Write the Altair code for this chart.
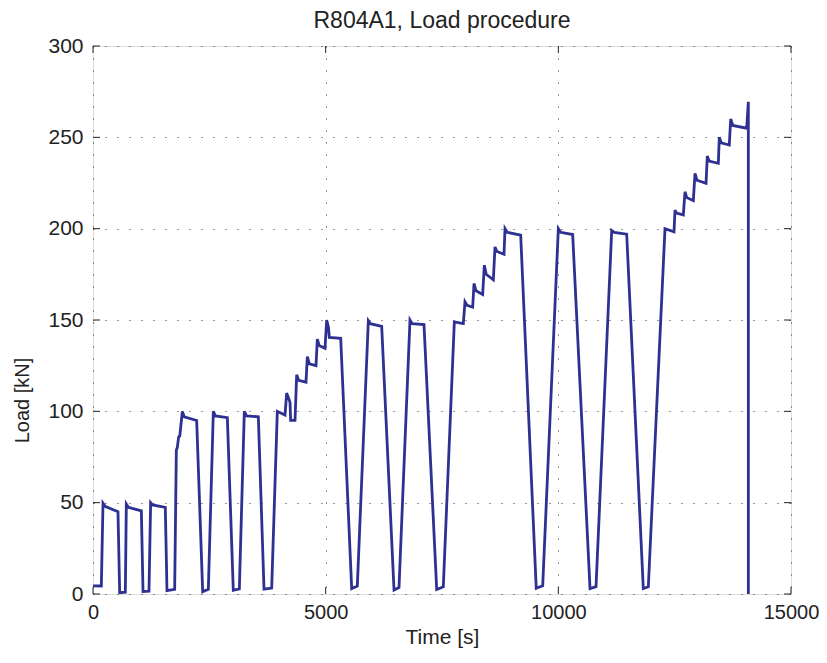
import altair as alt
import pandas as pd

# Load procedure
time_s = [0, 179, 215, 260, 537, 573, 695, 716, 760, 1039, 1075, 1203, 1239, 1280, 1554,
          1590, 1755, 1791, 1810, 1841, 1865, 1920, 1960, 2228, 2357, 2479, 2586, 2630, 2887,
          3015, 3145, 3252, 3300, 3553, 3675, 3840, 3961, 4126, 4162, 4234, 4248, 4341,
          4377, 4420, 4577, 4606, 4650, 4792, 4821, 4860, 4986, 5022, 5060, 5079, 5323,
          5559, 5680, 5917, 5960, 6204, 6469, 6576, 6812, 6860, 7113, 7386, 7528, 7765,
          7958, 7994, 8040, 8159, 8188, 8230, 8374, 8410, 8450, 8603, 8639, 8680, 8833,
          8854, 8900, 9191, 9525, 9664, 10000, 10050, 10308, 10681, 10810, 11147, 11200,
          11469, 11826, 11934, 12292, 12486, 12507, 12540, 12686, 12722, 12760, 12901,
          12937, 12980, 13174, 13201, 13240, 13438, 13459, 13500, 13674, 13704, 13750,
          14048, 14083, 14084]
load_kn = [4.5, 4.4, 49.7, 48, 45, 0.7, 1, 49.3, 47.5, 45.5, 1.3, 1.5, 50, 48.8, 47.4,
           1.8, 2.5, 78.8, 80, 86, 86.5, 100, 97, 95, 1.3, 2.6, 100, 97.5, 96.5,
           2, 2.8, 100, 97.5, 97, 2.6, 3.2, 100, 98, 110, 105, 95, 95,
           120, 117, 116, 130, 126, 125, 139.5, 136, 134.5, 150, 146, 140.5, 140,
           3, 4.4, 149.6, 148, 146.5, 2.2, 3.5, 150, 148, 147.5, 2.5, 4, 149,
           148, 160, 158, 157, 170, 166, 164, 180, 175, 172, 190, 187.5, 186,
           200, 198, 196.5, 3.1, 4.5, 200, 198, 196.8, 3, 4, 199, 198,
           197, 3, 4, 200, 198.3, 210.2, 208.5, 207.5, 220.2, 217, 215.3,
           230.3, 226.5, 224.8, 239.8, 237, 235.8, 250, 247, 245.8, 260, 256.5,
           255, 269.5, 0]

x_ticks = [0, 5000, 10000, 15000]
y_ticks = [0, 50, 100, 150, 200, 250, 300]

W, H = 698, 548
FONT = "Liberation Sans"
TXT = "#222222"

df = pd.DataFrame({"t": time_s, "L": load_kn})
xt = pd.DataFrame({"t": x_ticks})
yt = pd.DataFrame({"L": y_ticks})

x_axis = alt.Axis(values=x_ticks, format="d", title="Time [s]", grid=True,
                  gridDash=[1, 11], gridColor="#333333", gridWidth=1, ticks=False,
                  domain=False, labelFlush=False, labelOverlap=False, labelPadding=8,
                  labelFont=FONT, labelFontSize=20, labelColor=TXT,
                  titleFont=FONT, titleFontSize=21, titleFontWeight="normal",
                  titleColor=TXT, titleY=49, titleBaseline="alphabetic",
                  titleAlign="center")
y_axis = alt.Axis(values=y_ticks, format="d", title="Load [kN]", grid=True,
                  gridDash=[1, 11], gridColor="#333333", gridWidth=1, ticks=False,
                  domain=False, labelFlush=False, labelOverlap=False, labelPadding=10,
                  labelFont=FONT, labelFontSize=21, labelColor=TXT,
                  titleFont=FONT, titleFontSize=20, titleFontWeight="normal",
                  titleColor=TXT, titleX=-71, titleY=354, titleAlign="center",
                  titleBaseline="middle")

x_enc = alt.X("t:Q", scale=alt.Scale(domain=[0, 15000], nice=False, zero=False), axis=x_axis)
y_enc = alt.Y("L:Q", scale=alt.Scale(domain=[0, 300], nice=False), axis=y_axis)

line = alt.Chart(df).mark_line(color="#2E3192", strokeWidth=2.8, clip=True).encode(
    x=x_enc, y=y_enc)

tick_style = dict(color="#222222", strokeWidth=1)
bottom_ticks = alt.Chart(xt).mark_rule(**tick_style).encode(
    x=x_enc, y=alt.value(H), y2=alt.value(H - 7))
top_ticks = alt.Chart(xt).mark_rule(**tick_style).encode(
    x=x_enc, y=alt.value(0), y2=alt.value(7))
left_ticks = alt.Chart(yt).mark_rule(**tick_style).encode(
    y=y_enc, x=alt.value(0), x2=alt.value(7))
right_ticks = alt.Chart(yt).mark_rule(**tick_style).encode(
    y=y_enc, x=alt.value(W), x2=alt.value(W - 7))

chart = alt.layer(line, bottom_ticks, top_ticks, left_ticks, right_ticks).properties(
    width=W, height=H,
    title=alt.TitleParams("R804A1, Load procedure", font=FONT, fontSize=23,
                          fontWeight="normal", color=TXT, anchor="middle",
                          baseline="alphabetic", offset=8, dy=24),
    autosize=alt.AutoSizeParams(type="none"),
    padding={"left": 85, "top": 38, "right": 28, "bottom": 55},
).configure_view(stroke="#222222", strokeWidth=1.2).configure(background="white")

chart.save("out.html", embed_options={"renderer": "svg", "actions": False})
